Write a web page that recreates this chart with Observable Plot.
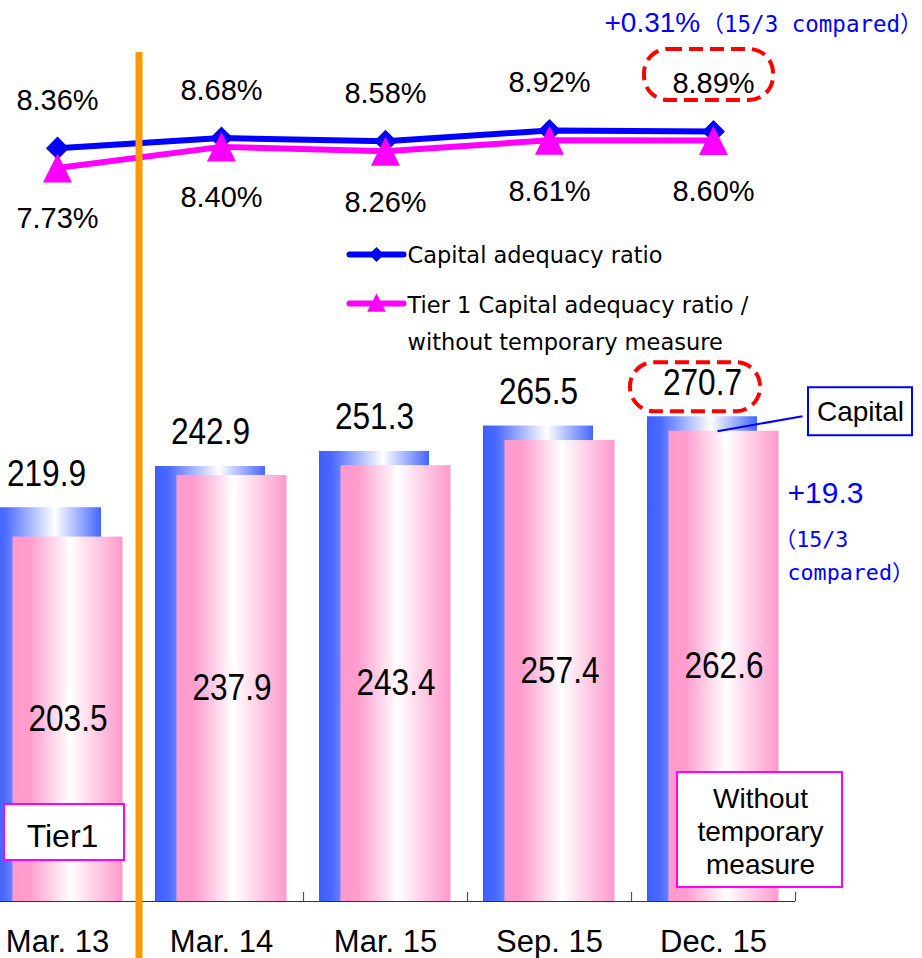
<!DOCTYPE html>
<html><head><meta charset="utf-8">
<script src="https://cdn.jsdelivr.net/npm/d3@7"></script>
<script src="https://cdn.jsdelivr.net/npm/@observablehq/plot@0.6"></script>
<style>
html,body{margin:0;padding:0;background:#fff;overflow:hidden;}
#chart{position:relative;width:922px;height:958px;}
#chart svg{display:block;}
</style></head><body>
<svg width="0" height="0" style="position:absolute">
<defs>
<linearGradient id="gBlue" x1="0" x2="1" y1="0" y2="0">
<stop offset="0" stop-color="#3d5eff"/><stop offset="0.12" stop-color="#4a6aff"/><stop offset="0.58" stop-color="#ffffff"/><stop offset="1" stop-color="#4466ff"/>
</linearGradient>
<linearGradient id="gPink" x1="0" x2="1" y1="0" y2="0">
<stop offset="0" stop-color="#ff99cc"/><stop offset="0.16" stop-color="#ff9dce"/><stop offset="0.52" stop-color="#ffffff"/><stop offset="1" stop-color="#ff99cc"/>
</linearGradient>
</defs></svg>
<div id="chart"></div>
<script>
const categories = ["Mar. 13", "Mar. 14", "Mar. 15", "Sep. 15", "Dec. 15"];
const capital = [219.9, 242.9, 251.3, 265.5, 270.7];
const tier1 = [203.5, 237.9, 243.4, 257.4, 262.6];
const capitalRatio = [8.36, 8.68, 8.58, 8.92, 8.89];
const tier1Ratio = [7.73, 8.40, 8.26, 8.61, 8.60];
const legendNames = ["Capital adequacy ratio", "Tier 1 Capital adequacy ratio /", "without temporary measure"];
const barNames = ["Capital", "Tier1", "Without\ntemporary\nmeasure"];
const ratioNotes = ["+0.31%", "（15/3 compared）"];
const capitalNotes = ["+19.3", "（15/3", "compared）"];

const rows = categories.map((cat, i) => ({cat, capital: capital[i], tier1: tier1[i], capR: capitalRatio[i], t1R: tier1Ratio[i]}));
const first = rows.slice(0, 1);
const last = rows.slice(-1);

const BLUE = "#0000ff", MAG = "#ff00ff", ORANGE = "#ff9900", RED = "#ff0000";
const SANS = "Liberation Sans, Arial, sans-serif";
const MONO = "DejaVu Sans Mono, Noto Sans CJK JP, monospace";
const xScale = {type: "band", domain: categories, range: [-25, 795], paddingInner: 0.33, paddingOuter: 0.165, axis: null};

const sq = (size) => Math.sqrt(size) / 2;
const diamondSym = {draw(ctx, size) { const s = sq(size); ctx.moveTo(0, -s); ctx.lineTo(s, 0); ctx.lineTo(0, s); ctx.lineTo(-s, 0); ctx.closePath(); }};
const triangleSym = {draw(ctx, size) { const s = sq(size); ctx.moveTo(0, -s); ctx.lineTo(s, s); ctx.lineTo(-s, s); ctx.closePath(); }};
const lineSym = {draw(ctx) { ctx.moveTo(-27, 0); ctx.lineTo(27, 0); }};
const leaderSym = {draw(ctx) { ctx.moveTo(0, 0); ctx.lineTo(85, -15); }};

const pct = (v) => v.toFixed(2) + "%";
const one = (v) => v.toFixed(1);

const topPlot = Plot.plot({
  width: 922, height: 360, margin: 0,
  x: xScale,
  y: {domain: [1.618, 13.047], axis: null},
  style: {fontFamily: SANS, background: "transparent", overflow: "visible"},
  marks: [
    Plot.line(rows, {x: "cat", y: "capR", stroke: BLUE, strokeWidth: 6}),
    Plot.dot(rows, {x: "cat", y: "capR", symbol: diamondSym, r: 13, fill: BLUE, stroke: "none"}),
    Plot.line(rows, {x: "cat", y: "t1R", stroke: MAG, strokeWidth: 6}),
    Plot.dot(rows, {x: "cat", y: "t1R", symbol: triangleSym, r: 16.4, fill: MAG, stroke: "none"}),
    Plot.text(rows, {x: "cat", y: "capR", text: (d) => pct(d.capR), dy: -47.5, fontSize: 29, fill: "black"}),
    Plot.text(rows, {x: "cat", y: "t1R", text: (d) => pct(d.t1R), dy: 51, fontSize: 29, fill: "black"}),
    Plot.barY(last, {x: "cat", y1: "capR", y2: "capR", insetTop: -82, insetBottom: 31, insetLeft: -14, insetRight: -5, fill: "none", stroke: RED, strokeWidth: 4, strokeDasharray: "14,7", rx: 24}),
    Plot.text(last, {x: "cat", y: "capR", text: () => ratioNotes[0], textAnchor: "start", dx: -109, dy: -108, fontSize: 28, fill: BLUE}),
    Plot.text(last, {x: "cat", y: "capR", text: () => ratioNotes[1], textAnchor: "start", dx: -12, dy: -106.5, fontSize: 22.5, fontFamily: MONO, fill: BLUE}),
    // legend
    Plot.dot([legendNames[0]], {frameAnchor: "top-left", dx: 376, dy: 254, symbol: lineSym, fill: "none", stroke: BLUE, strokeWidth: 6, strokeLinecap: "round"}),
    Plot.dot([legendNames[0]], {frameAnchor: "top-left", dx: 376, dy: 254, symbol: diamondSym, r: 8.5, fill: BLUE, stroke: "none"}),
    Plot.text([legendNames[0]], {frameAnchor: "top-left", dx: 407, dy: 255.5, text: (d) => d, textAnchor: "start", lineAnchor: "middle", fontFamily: "DejaVu Sans, sans-serif", fontSize: 22.5, fill: "black"}),
    Plot.dot([legendNames[1]], {frameAnchor: "top-left", dx: 376, dy: 303, symbol: lineSym, fill: "none", stroke: MAG, strokeWidth: 6, strokeLinecap: "round"}),
    Plot.dot([legendNames[1]], {frameAnchor: "top-left", dx: 376, dy: 302, symbol: triangleSym, r: 10.5, fill: MAG, stroke: "none"}),
    Plot.text([legendNames[1]], {frameAnchor: "top-left", dx: 407, dy: 305.5, text: (d) => d, textAnchor: "start", lineAnchor: "middle", fontFamily: "DejaVu Sans, sans-serif", fontSize: 22.5, fill: "black"}),
    Plot.text([legendNames[2]], {frameAnchor: "top-left", dx: 407, dy: 342, text: (d) => d, textAnchor: "start", lineAnchor: "middle", fontFamily: "DejaVu Sans, sans-serif", fontSize: 22.5, fill: "black"}),
    Plot.ruleX([categories[1]], {dx: -82.5, insetTop: 52, stroke: ORANGE, strokeWidth: 7})
  ]
});

const bottomPlot = Plot.plot({
  width: 922, height: 598, marginTop: 0, marginBottom: 57, marginLeft: 0, marginRight: 0,
  x: xScale,
  y: {domain: [0, 302.1], axis: null},
  style: {fontFamily: SANS, background: "transparent", overflow: "visible"},
  marks: [
    Plot.barY(rows, {x: "cat", y: "capital", dx: -11, fill: "url(#gBlue)"}),
    Plot.barY(rows, {x: "cat", y: "tier1", dx: 10.5, fill: "url(#gPink)"}),
    Plot.ruleY([0], {insetRight: 127, stroke: "#333", strokeWidth: 1.2}),
    Plot.ruleX(rows, {x: "cat", dx: 82, insetTop: 532, stroke: "#555", strokeWidth: 1.2}),
    Plot.axisX({tickSize: 0, tickPadding: 28, fontSize: 31, fontFamily: SANS, color: "black", label: null}),
    Plot.text(rows, {x: "cat", y: "capital", text: (d) => one(d.capital), dx: -11, dy: -34, fontSize: 37, fill: "black", ariaDescription: "narrow"}),
    Plot.text(rows, {x: "cat", y: (d) => d.tier1 / 2, text: (d) => one(d.tier1), dx: 10.5, fontSize: 37, fill: "black", ariaDescription: "narrow"}),
    // red highlight around latest capital
    Plot.barY(last, {x: "cat", y1: "capital", y2: "capital", insetTop: -54, insetBottom: 5, insetLeft: -28, insetRight: 8, fill: "none", stroke: RED, strokeWidth: 4, strokeDasharray: "14,7", rx: 24}),
    // Capital label box + leader
    Plot.dot(last, {x: "cat", y: "tier1", dx: 4, symbol: leaderSym, fill: "none", stroke: BLUE, strokeWidth: 2}),
    Plot.barY(last, {x: "cat", y1: "capital", y2: "capital", insetTop: -29, insetBottom: -19, insetLeft: 150, insetRight: -144, fill: "white", stroke: BLUE, strokeWidth: 2}),
    Plot.text(last, {x: "cat", y: "capital", text: () => barNames[0], dx: 147, dy: -5, fontSize: 28, fill: "black"}),
    // Tier1 box
    Plot.barY(first, {x: "cat", y1: 0, y2: 0, insetTop: -97, insetBottom: 41, insetLeft: 2, insetRight: -12, fill: "white", stroke: MAG, strokeWidth: 2}),
    Plot.text(first, {x: "cat", y: 0, text: () => barNames[1], dx: 5, dy: -65, fontSize: 32, fill: "black"}),
    // Without temporary measure box
    Plot.barY(last, {x: "cat", y1: 0, y2: 0, insetTop: -129, insetBottom: 14, insetLeft: 19, insetRight: -74, fill: "white", stroke: MAG, strokeWidth: 2}),
    Plot.text(last, {x: "cat", y: 0, text: () => barNames[2], dx: 47, dy: -71, fontSize: 28, lineHeight: 1.18, fill: "black"}),
    // change notes
    Plot.text(last, {x: "cat", y: "tier1", text: () => capitalNotes[0], dx: 112, dy: 62, fontSize: 30, fill: BLUE}),
    Plot.text(last, {x: "cat", y: "tier1", text: () => capitalNotes[1], textAnchor: "start", dx: 61, dy: 109, fontSize: 21.7, fontFamily: MONO, fill: BLUE}),
    Plot.text(last, {x: "cat", y: "tier1", text: () => capitalNotes[2], textAnchor: "start", dx: 74, dy: 142, fontSize: 21.7, fontFamily: MONO, fill: BLUE}),
    Plot.ruleX([categories[1]], {dx: -82.5, insetBottom: -57, stroke: ORANGE, strokeWidth: 7})
  ]
});

// condense the bar value labels horizontally (the reference uses a narrow face)
bottomPlot.querySelectorAll('[aria-description="narrow"] text').forEach((t) => {
  const tr = t.getAttribute("transform") || "";
  const x = +(t.getAttribute("x") || 0);
  t.setAttribute("transform", `${tr} translate(${x},0) scale(0.855,1) translate(${-x},0)`);
});

const host = document.getElementById("chart");
host.appendChild(topPlot);
host.appendChild(bottomPlot);
</script>
</body></html>
